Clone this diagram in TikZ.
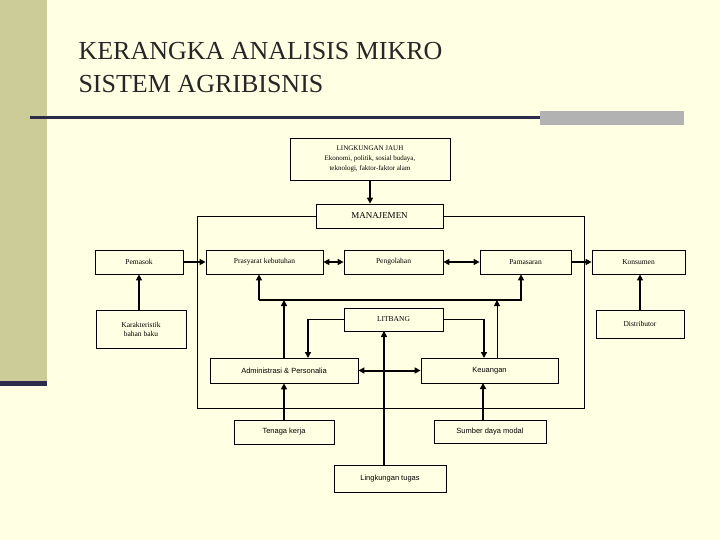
\documentclass[tikz,border=0pt]{standalone}
\usepackage{fontspec}
\setmainfont{Liberation Serif}
\newfontfamily\arial{Liberation Sans}
\usetikzlibrary{arrows.meta}
\definecolor{bg}{HTML}{FFFFE3}
\definecolor{band}{HTML}{CCCC99}
\definecolor{bar}{HTML}{2B2B4A}
\begin{document}
\begin{tikzpicture}[x=1pt,y=-1pt,
 bx/.style={draw,line width=0.8pt,fill=bg,inner sep=0pt,font=\fontsize{7.5}{9}\selectfont,align=center},
 sx/.style={bx,font=\arial\fontsize{7.5}{9}\selectfont},
 ar/.style={line width=2pt,-{Triangle[length=6pt,width=6pt]}},
 dar/.style={line width=2pt,{Triangle[length=6pt,width=6pt]}-{Triangle[length=6pt,width=6pt]}},
 ln/.style={line width=0.8pt}]
\fill[bg] (0,0) rectangle (720,540);
\useasboundingbox (0,0) rectangle (720,540);
\fill[band] (0,0) rectangle (47,384);
\fill[bar] (0,381) rectangle (47,386);
\fill[bar] (30,116) rectangle (540,119);
\fill[gray!60] (540,111) rectangle (684,125);
\node[anchor=west,font=\fontsize{26}{28}\selectfont,text=black!85] (t1) at (75,51) {KERANGKA ANALISIS MIKRO};
\node[anchor=west,font=\fontsize{26}{28}\selectfont,text=black!85] (t2) at (75,84) {SISTEM AGRIBISNIS};
\draw[ln] (316,216) -- (197,216) -- (197,408) -- (584,408) -- (584,216) -- (443,216);
\node[bx,minimum width=160pt,minimum height=42pt,font=\fontsize{7}{10}\selectfont] (lj) at (370,159) {LINGKUNGAN JAUH\\Ekonomi, politik, sosial budaya,\\teknologi, faktor-faktor alam};
\node[bx,minimum width=127pt,minimum height=24pt,font=\fontsize{9}{10}\selectfont] (man) at (379.5,216) {MANAJEMEN};
\node[bx,minimum width=88pt,minimum height=24pt] (pem) at (139,262) {Pemasok};
\node[bx,minimum width=117pt,minimum height=24pt] (pra) at (264.5,262) {Prasyarat kebutuhan};
\node[bx,minimum width=99pt,minimum height=24pt] (pen) at (393.5,262) {Pengolahan};
\node[bx,minimum width=91pt,minimum height=24pt] (pam) at (525.5,262) {Pamasaran};
\node[bx,minimum width=93pt,minimum height=24pt] (kon) at (638.5,262) {Konsumen};
\node[bx,minimum width=90pt,minimum height=38pt] (kar) at (141,329) {Karakteristik\\bahan baku};
\node[bx,minimum width=88pt,minimum height=28pt] (dis) at (640,324) {Distributor};
\node[bx,minimum width=99pt,minimum height=23pt] (lit) at (393.5,319.5) {LITBANG};
\node[sx,minimum width=148pt,minimum height=25pt] (adm) at (284,370.5) {Administrasi \& Personalia};
\node[sx,minimum width=137pt,minimum height=25pt] (keu) at (489.5,370.5) {Keuangan};
\node[sx,minimum width=100pt,minimum height=24pt] (ten) at (284,432) {Tenaga kerja};
\node[sx,minimum width=112pt,minimum height=23pt] (sum) at (490,431.5) {Sumber daya modal};
\node[sx,minimum width=112pt,minimum height=27pt] (lt) at (390,478.5) {Lingkungan tugas};
\draw[ar] (lj) -- (lj|-man.north);
\draw[ar] (pem) -- (pra);
\draw[dar] (pra) -- (pen);
\draw[dar] (pen) -- (pam);
\draw[ar] (pam) -- (kon);
\draw[ar] (kar.north-|pem) -- (pem);
\draw[ar] (dis.north) -- (kon.south-|dis.north);
\coordinate (bl) at (259,300); \coordinate (br) at (521,300);
\draw[line width=1.4pt,-{Triangle[length=6pt,width=6pt]}] (bl) -- (br) -- (br|-pam.south);
\draw[ar] (bl) -- (bl|-pra.south);
\draw[ar] (adm.north) -- (adm.north|-bl);
\draw[line width=1pt,-{Triangle[length=6pt,width=6pt]}] (497,358) -- (497,300);
\draw[line width=1.4pt,-{Triangle[length=6pt,width=6pt]}] (lit.west) -| (308,358);
\draw[line width=1.4pt,-{Triangle[length=6pt,width=6pt]}] (lit.east) -| (484,358);
\draw[dar] (adm) -- (keu);
\draw[ar] (lt.north-|384,0) -- (384,331);
\draw[ar] (ten) -- (adm);
\draw[ar] (sum.north-|483,0) -- (483,383);
\end{tikzpicture}
\end{document}
